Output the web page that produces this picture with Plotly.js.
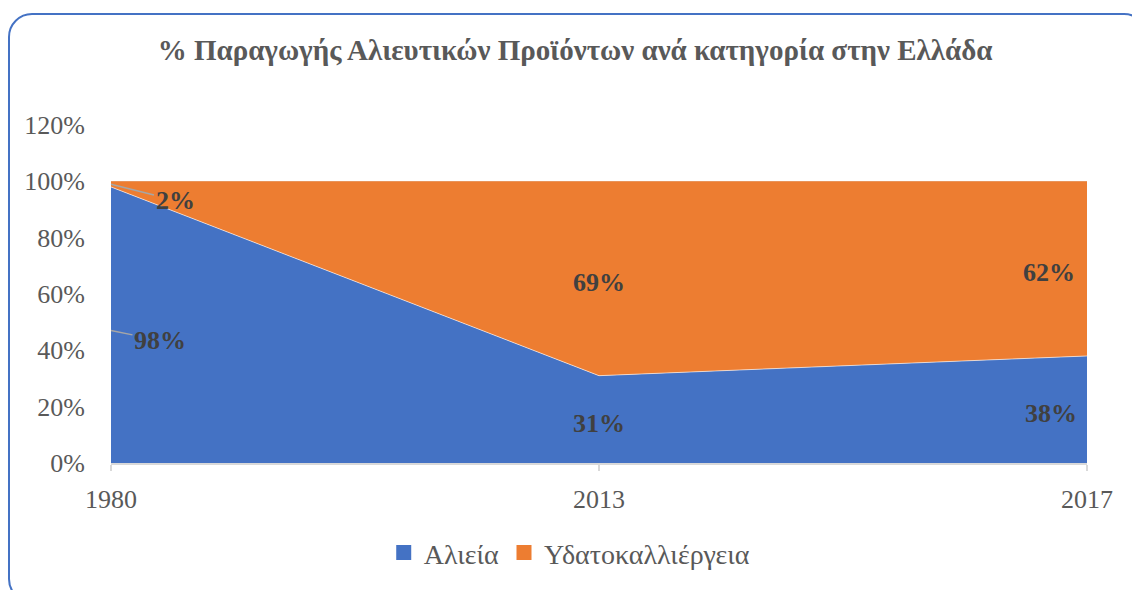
<!DOCTYPE html>
<html>
<head>
<meta charset="utf-8">
<script src="https://cdn.plot.ly/plotly-3.0.1.min.js"></script>
<style>
html,body{margin:0;padding:0;background:#fff;}
#wrap{position:relative;width:1132px;height:590px;overflow:hidden;}
#chart{position:absolute;left:0;top:0;width:1132px;height:590px;}
#frame{position:absolute;left:8px;top:13px;width:1140px;height:590px;border:2px solid #4472C4;border-radius:24px;pointer-events:none;box-sizing:border-box;}
</style>
</head>
<body>
<div id="wrap"><div id="chart"></div><div id="frame"></div></div>
<script>
const years = ['1980', '2013', '2017'];
const alieia = [0.98, 0.31, 0.38];
const ydato = [0.02, 0.69, 0.62];
const seriesNames = ['Αλιεία', 'Υδατοκαλλιέργεια'];
const yTicks = [0, 0.2, 0.4, 0.6, 0.8, 1.0, 1.2];
const yTickText = ['0%', '20%', '40%', '60%', '80%', '100%', '120%'];
const titleText = '% Παραγωγής Αλιευτικών Προϊόντων ανά κατηγορία στην Ελλάδα';

const BLUE = '#4472C4', ORANGE = '#ED7D31';
const FONT = 'Liberation Serif';

const traces = [
  {x: years, y: alieia, type: 'scatter', mode: 'lines', stackgroup: 'one',
   line: {width: 0.6, color: '#ffffff'}, fillcolor: BLUE, showlegend: false, hoverinfo: 'skip', name: seriesNames[0]},
  {x: years, y: ydato, type: 'scatter', mode: 'lines', stackgroup: 'one',
   line: {width: 0, color: ORANGE}, fillcolor: ORANGE, showlegend: false, hoverinfo: 'skip', name: seriesNames[1]},
  {x: [null], y: [null], type: 'scatter', mode: 'markers', name: seriesNames[0],
   marker: {symbol: 'square', size: 15, color: BLUE}},
  {x: [null], y: [null], type: 'scatter', mode: 'markers', name: seriesNames[1],
   marker: {symbol: 'square', size: 15, color: ORANGE}}
];

const pct = v => Math.round(v * 100) + '%';
const labFont = {family: FONT, size: 26, color: '#404040'};
const annotations = [];
years.forEach((yr, i) => {
  const a = alieia[i], o = ydato[i];
  if (i === 0) {
    annotations.push({x: i, y: a * 0.48, text: '<b>' + pct(a) + '</b>', font: labFont,
      showarrow: true, arrowhead: 0, arrowwidth: 1.5, arrowcolor: '#a6a6a6', ax: 49, ay: 10, xref: 'x', yref: 'y'});
    annotations.push({x: i, y: a + o * 0.5, text: '<b>' + pct(o) + '</b>', font: labFont,
      showarrow: true, arrowhead: 0, arrowwidth: 1.5, arrowcolor: '#a6a6a6', ax: 64, ay: 16, xref: 'x', yref: 'y'});
  } else {
    const last = i === years.length - 1;
    annotations.push({x: i, y: a / 2, text: '<b>' + pct(a) + '</b>', font: labFont, showarrow: false,
      xanchor: last ? 'right' : 'center', xshift: last ? -8 : 0, yshift: -4, xref: 'x', yref: 'y'});
    annotations.push({x: i, y: a + (last ? 0.31 : o / 2), text: '<b>' + pct(o) + '</b>', font: labFont, showarrow: false,
      xanchor: last ? 'right' : 'center', xshift: last ? -10 : 0, yshift: -4, xref: 'x', yref: 'y'});
  }
});

const layout = {
  width: 1132, height: 590,
  margin: {l: 111, r: 45, t: 125, b: 123},
  paper_bgcolor: 'rgba(0,0,0,0)', plot_bgcolor: 'rgba(0,0,0,0)',
  font: {family: FONT, color: '#595959', size: 26},
  title: {text: '<b>' + titleText + '</b>', x: 0.508, xanchor: 'center', y: 0.915, yanchor: 'middle',
    xref: 'container', yref: 'container', font: {family: FONT, size: 29, color: '#595959'}},
  xaxis: {type: 'category', range: [0, 2], showgrid: false, showline: true, linecolor: '#d9d9d9', linewidth: 1.5,
    ticks: 'outside', ticklen: 6, tickcolor: '#d9d9d9', tickwidth: 1.5, ticklabelstandoff: 6,
    tickfont: {family: FONT, size: 26, color: '#595959'}, zeroline: false, fixedrange: true},
  yaxis: {range: [0, 1.2], tickvals: yTicks, ticktext: yTickText, showgrid: true, gridcolor: '#d9d9d9', gridwidth: 1.5,
    zeroline: false, showline: false, ticks: '', ticklabelstandoff: 25,
    tickfont: {family: FONT, size: 26, color: '#595959'}, fixedrange: true},
  showlegend: true,
  legend: {orientation: 'h', traceorder: 'normal', x: 0.47, xanchor: 'center', y: -0.266, yanchor: 'middle',
    font: {family: FONT, size: 28, color: '#595959'}, itemclick: false, itemdoubleclick: false},
  annotations: annotations
};

Plotly.newPlot('chart', traces, layout, {displayModeBar: false, staticPlot: true});
</script>
</body>
</html>
